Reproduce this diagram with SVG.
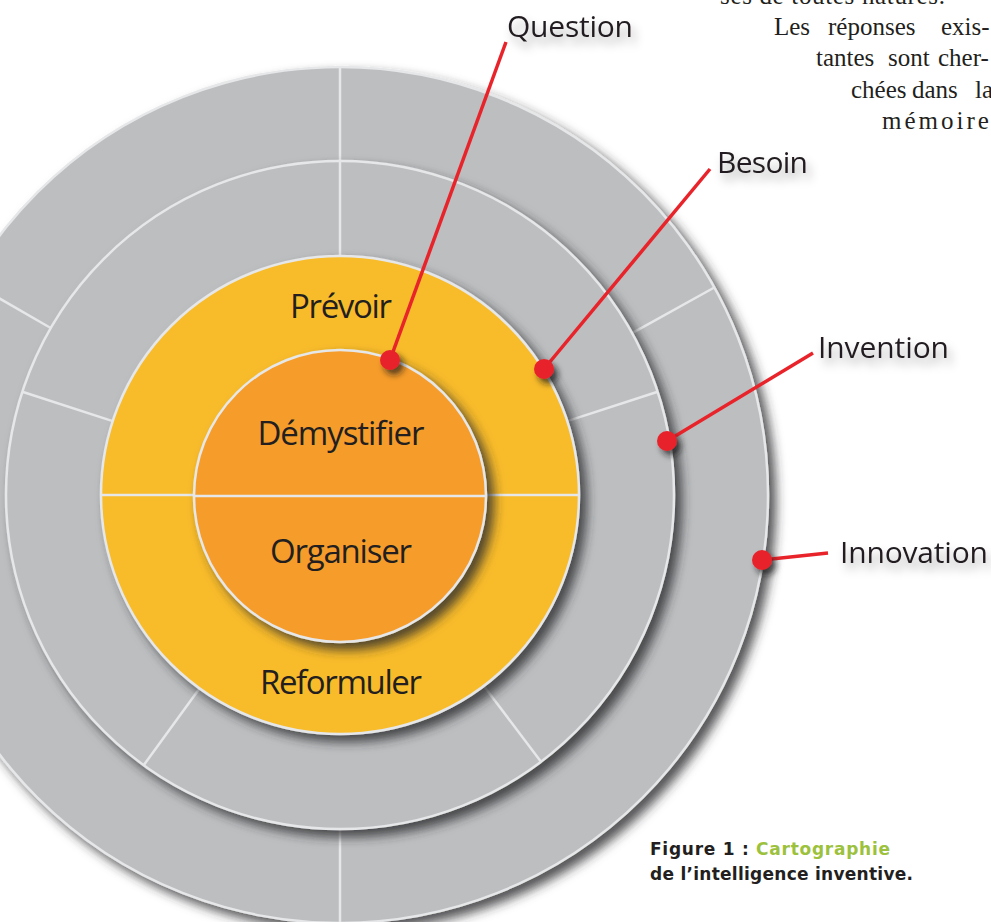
<svg xmlns="http://www.w3.org/2000/svg" width="991" height="922" viewBox="0 0 991 922">
<style>
.disk{stroke:#e6e7e8;stroke-width:2.5}
.gray{fill:#bcbec0}
.yel{fill:#f8bb2b}
.org{fill:#f69c2c}
.div{stroke:#e6e7e8;stroke-width:2.5;fill:none}
.lab{font-family:"Open Sans","Noto Sans",sans-serif;font-size:30px;fill:#231f20}
.in{font-family:"Open Sans","Noto Sans",sans-serif;font-size:33px;fill:#231f20;text-anchor:middle}
.body{font-family:"Liberation Serif",serif;font-size:25px;fill:#231f20}
.cap{font-family:"DejaVu Sans","Liberation Sans",sans-serif;font-size:17px;font-weight:700;fill:#231f20}
.red{stroke:#e8232a;stroke-width:3.5;fill:none}
.dot{fill:#e8232a}
</style>
<defs>
<filter id="ds" x="-15%" y="-15%" width="135%" height="135%">
<feGaussianBlur in="SourceAlpha" stdDeviation="5.5"/>
<feOffset dx="7" dy="7" result="b"/>
<feFlood flood-color="#2b2b2d" flood-opacity="0.8"/>
<feComposite in2="b" operator="in"/>
<feMerge><feMergeNode/><feMergeNode in="SourceGraphic"/></feMerge>
</filter>
<filter id="dd" x="-100%" y="-100%" width="300%" height="300%">
<feGaussianBlur in="SourceAlpha" stdDeviation="3"/>
<feOffset dx="4" dy="5" result="b"/>
<feFlood flood-color="#1a1a1a" flood-opacity="0.7"/>
<feComposite in2="b" operator="in"/>
<feMerge><feMergeNode/><feMergeNode in="SourceGraphic"/></feMerge>
</filter>
<filter id="ts" x="-20%" y="-50%" width="150%" height="220%">
<feGaussianBlur in="SourceAlpha" stdDeviation="5"/>
<feOffset dx="4" dy="7" result="b"/>
<feFlood flood-color="#000" flood-opacity="0.32"/>
<feComposite in2="b" operator="in"/>
<feMerge><feMergeNode/><feMergeNode in="SourceGraphic"/></feMerge>
</filter>
</defs>
<rect width="991" height="922" fill="#ffffff"/>

<g id="body-text" class="body">
<text x="720" y="4" textLength="225">ses de toutes natures.</text>
<text y="35"><tspan x="774">Les</tspan><tspan x="828">réponses</tspan><tspan x="941">exis-</tspan></text>
<text y="66"><tspan x="816">tantes</tspan><tspan x="888">sont</tspan><tspan x="938">cher-</tspan></text>
<text y="98"><tspan x="851">chées</tspan><tspan x="912">dans</tspan><tspan x="975">la</tspan></text>
<text x="882" y="129" letter-spacing="3">mémoire</text>
</g>

<g id="ring-innovation">
<circle class="disk gray" cx="340" cy="495" r="428" filter="url(#ds)"/>
<path class="div" d="M340 161V67 M632.1 333.1L714.3 287.5 M50.7 328L-30.7 281 M340 829V925"/>
</g>
<g id="ring-invention">
<circle class="disk gray" cx="340" cy="495" r="334" filter="url(#ds)"/>
<path class="div" d="M340 256V161 M567.3 421.1L657.7 391.8 M112.7 421.1L22.3 391.8 M483.8 685.9L541 761.7 M199.5 688.4L143.7 765.2"/>
</g>
<g id="ring-besoin">
<circle class="disk yel" cx="340" cy="495" r="239" filter="url(#ds)"/>
<path class="div" d="M101 495H579"/>
<text class="in" x="341" y="318" textLength="102">Prévoir</text>
<text class="in" x="341" y="694" textLength="162">Reformuler</text>
</g>
<g id="ring-question">
<circle class="disk org" cx="340" cy="496" r="146" filter="url(#ds)"/>
<path class="div" d="M194 496H486"/>
<text class="in" x="341" y="445" textLength="167">Démystifier</text>
<text class="in" x="341" y="563" textLength="142">Organiser</text>
</g>

<g id="connectors">
<path class="red" d="M390 360L506 42"/>
<path class="red" d="M544 369L710 169"/>
<path class="red" d="M667 441L813 353"/>
<path class="red" d="M762 560L828 553"/>
<circle class="dot" cx="390" cy="360" r="10" filter="url(#dd)"/>
<circle class="dot" cx="544" cy="369" r="10" filter="url(#dd)"/>
<circle class="dot" cx="667" cy="441" r="10" filter="url(#dd)"/>
<circle class="dot" cx="762" cy="560" r="10" filter="url(#dd)"/>
</g>

<g id="label-question"><text class="lab" x="507" y="37" textLength="126" filter="url(#ts)">Question</text></g>
<g id="label-besoin"><text class="lab" x="717" y="173" textLength="91" filter="url(#ts)">Besoin</text></g>
<g id="label-invention"><text class="lab" x="818" y="358" textLength="131" filter="url(#ts)">Invention</text></g>
<g id="label-innovation"><text class="lab" x="840" y="563" textLength="148" filter="url(#ts)">Innovation</text></g>

<g id="caption" class="cap">
<text x="650" y="855" textLength="240">Figure 1 : <tspan fill="#9cc13c">Cartographie</tspan></text>
<text x="650" y="880" textLength="263">de l’intelligence inventive.</text>
</g>
</svg>
